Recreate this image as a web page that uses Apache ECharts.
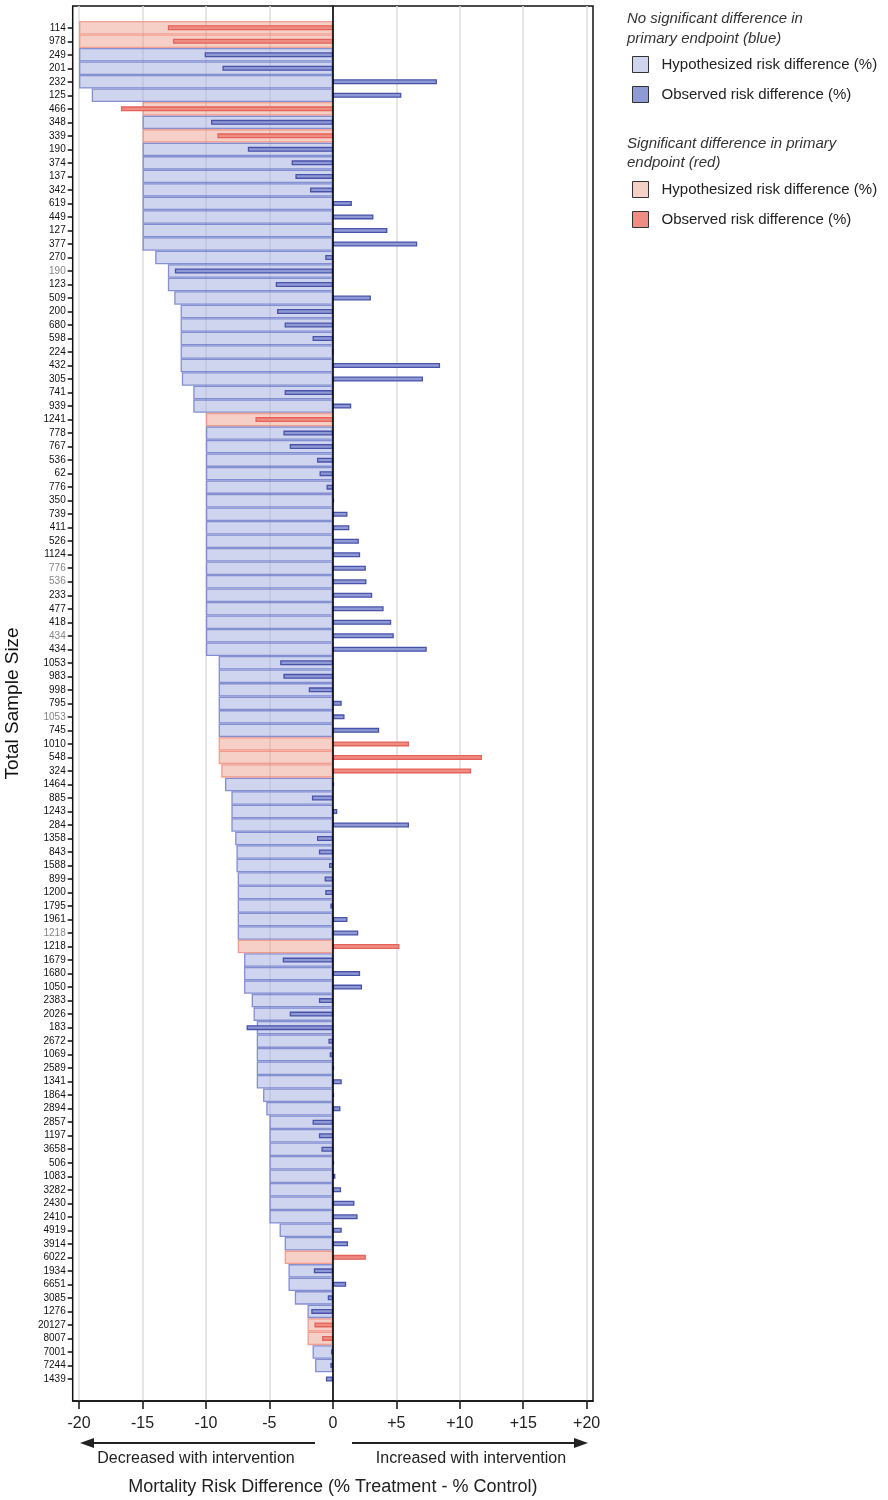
<!DOCTYPE html>
<html>
<head>
<meta charset="utf-8">
<script src="https://cdn.jsdelivr.net/npm/echarts@6/dist/echarts.min.js"></script>
<style>
  html, body { margin: 0; padding: 0; background: #fff; }
  #chart { width: 888px; height: 1500px; }
</style>
</head>
<body>
<div id="chart"></div>
<script>
// total sample size of each trial, top to bottom
var sampleSizes = ['114', '978', '249', '201', '232', '125', '466', '348', '339', '190',
  '374', '137', '342', '619', '449', '127', '377', '270', '190', '123',
  '509', '200', '680', '598', '224', '432', '305', '741', '939', '1241',
  '778', '767', '536', '62', '776', '350', '739', '411', '526', '1124',
  '776', '536', '233', '477', '418', '434', '434', '1053', '983', '998',
  '795', '1053', '745', '1010', '548', '324', '1464', '885', '1243', '284',
  '1358', '843', '1588', '899', '1200', '1795', '1961', '1218', '1218', '1679',
  '1680', '1050', '2383', '2026', '183', '2672', '1069', '2589', '1341', '1864',
  '2894', '2857', '1197', '3658', '506', '1083', '3282', '2430', '2410', '4919',
  '3914', '6022', '1934', '6651', '3085', '1276', '20127', '8007', '7001', '7244', '1439']

// hypothesized risk difference (%)
var hypothesized = [-20, -20, -20, -20, -20, -19, -15, -15, -15, -15,
  -15, -15, -15, -15, -15, -15, -15, -14, -13, -13,
  -12.5, -12, -12, -12, -12, -12, -11.9, -11, -11, -10,
  -10, -10, -10, -10, -10, -10, -10, -10, -10, -10,
  -10, -10, -10, -10, -10, -10, -10, -9, -9, -9,
  -9, -9, -9, -9, -9, -8.8, -8.5, -8, -8, -8,
  -7.7, -7.6, -7.6, -7.5, -7.5, -7.5, -7.5, -7.5, -7.5, -7,
  -7, -7, -6.4, -6.25, -6, -6, -6, -6, -6, -5.5,
  -5.25, -5, -5, -5, -5, -5, -5, -5, -5, -4.2,
  -3.8, -3.8, -3.5, -3.5, -3, -2, -2, -2, -1.6, -1.4, null]

// observed risk difference (%)
var observed = [-13, -12.6, -10.1, -8.7, 8.2, 5.4, -16.7, -9.6, -9.1, -6.7,
  -3.25, -2.95, -1.8, 1.5, 3.2, 4.3, 6.65, -0.6, -12.45, -4.5,
  3.0, -4.4, -3.8, -1.6, 0, 8.45, 7.1, -3.8, 1.45, -6.1,
  -3.9, -3.4, -1.25, -1.05, -0.5, 0.1, 1.15, 1.3, 2.05, 2.15,
  2.6, 2.65, 3.1, 4.0, 4.6, 4.8, 7.4, -4.15, -3.9, -1.9,
  0.7, 0.92, 3.65, 6.0, 11.75, 10.9, 0.1, -1.65, 0.35, 6.0,
  -1.25, -1.1, -0.3, -0.65, -0.6, -0.2, 1.15, 2.0, 5.25, -3.95,
  2.15, 2.3, -1.1, -3.4, -6.8, -0.35, -0.25, 0.1, 0.7, 0.1,
  0.6, -1.6, -1.1, -0.9, 0.1, 0.2, 0.65, 1.7, 1.95, 0.7,
  1.2, 2.6, -1.5, 1.05, -0.4, -1.7, -1.45, -0.85, -0.15, -0.2, -0.55]

// rows with a significant difference in the primary endpoint (red)
var significantRows = [0, 1, 6, 8, 29, 53, 54, 55, 68, 91, 96, 97]
// rows whose label is printed in grey
var greyRows = [18, 40, 41, 45, 51, 67]

var xTicks = [-20, -15, -10, -5, 0, 5, 10, 15, 20]

var FONT = '"Liberation Sans", Arial, Helvetica, sans-serif'

function isSig (i) { return significantRows.indexOf(i) >= 0 }
function pick (arr, sig) {
  return arr.map(function (v, i) { return isSig(i) === sig ? v : null })
}

var chart = echarts.init(document.getElementById('chart'))

var hypStyleBlue = { color: 'rgba(160,172,222,0.5)', borderColor: 'rgba(108,120,200,0.8)', borderWidth: 1.3 }
var hypStyleRed = { color: 'rgba(234,150,128,0.45)', borderColor: 'rgba(236,128,110,0.7)', borderWidth: 1.3 }
var obsStyleBlue = { color: '#8f9ad5', borderColor: '#4852aa', borderWidth: 1.3 }
var obsStyleRed = { color: '#ee8d84', borderColor: '#e4625a', borderWidth: 1.3 }

var legendNames = {
  hypBlue: 'Hypothesized risk difference (%)',
  obsBlue: 'Observed risk difference (%)',
  hypRed: 'Hypothesized risk difference (%)',
  obsRed: 'Observed risk difference (%)'
}

var legendCommon = {
  orient: 'vertical',
  left: 632,
  padding: 0,
  itemWidth: 16,
  itemHeight: 16,
  itemGap: 13,
  icon: 'rect',
  selectedMode: false,
  itemStyle: { borderColor: '#333', borderWidth: 1 },
  formatter: function (name) { return legendNames[name] },
  textStyle: { fontFamily: FONT, fontSize: 15, color: '#222', padding: [0, 0, 0, 8] }
}

var option = {
  backgroundColor: '#fff',
  animation: false,
  grid: [
    { left: 72.7, right: 295, top: 6, bottom: 99, outerBoundsMode: 'none', show: true, borderColor: '#111', borderWidth: 1.5, backgroundColor: 'transparent' },
    { left: 72.7, right: 295, top: 21, bottom: 114.3, outerBoundsMode: 'none' }
  ],
  xAxis: [
    {
      gridIndex: 0,
      type: 'value',
      min: -20.5,
      max: 20.5,
      name: 'Mortality Risk Difference (% Treatment - % Control)',
      nameLocation: 'middle',
      nameGap: 77,
      nameMoveOverlap: false,
      nameTextStyle: { fontFamily: FONT, fontSize: 18, color: '#222' },
      axisLine: { show: true, onZero: false, lineStyle: { color: '#111', width: 1.5 } },
      axisTick: { show: true, customValues: xTicks, length: 8, lineStyle: { color: '#111', width: 1.5 } },
      axisLabel: {
        customValues: xTicks,
        margin: 15,
        fontFamily: FONT,
        fontSize: 16,
        color: '#222',
        formatter: function (v) { return v > 0 ? '+' + v : String(v) }
      },
      splitLine: { show: true, lineStyle: { color: '#dedede', width: 1.5 } }
    },
    {
      gridIndex: 1,
      type: 'value',
      min: -20.5,
      max: 20.5,
      show: false
    }
  ],
  yAxis: [
    {
      // zero reference line
      gridIndex: 0,
      type: 'value',
      min: 0,
      max: 1,
      z: 10,
      axisLine: { show: true, onZero: true, lineStyle: { color: '#000', width: 1.6 } },
      axisTick: { show: false },
      axisLabel: { show: false },
      splitLine: { show: false }
    },
    {
      gridIndex: 1,
      type: 'category',
      inverse: true,
      data: sampleSizes,
      name: 'Total Sample Size',
      nameLocation: 'middle',
      nameGap: 50,
      nameRotate: 90,
      nameMoveOverlap: false,
      nameTextStyle: { fontFamily: FONT, fontSize: 19, color: '#111' },
      axisLine: { show: false, onZero: false },
      axisTick: { show: true, alignWithLabel: true, length: 5, lineStyle: { color: '#111', width: 1.5 } },
      axisLabel: {
        interval: 0,
        margin: 7,
        fontFamily: FONT,
        fontSize: 10,
        color: '#111',
        formatter: function (v, i) { return greyRows.indexOf(i) >= 0 ? '{g|' + v + '}' : v },
        rich: { g: { fontFamily: FONT, fontSize: 10, color: '#858585' } }
      },
      splitLine: { show: false }
    },
    {
      gridIndex: 1,
      type: 'category',
      inverse: true,
      data: sampleSizes,
      show: false,
      axisLine: { onZero: false }
    }
  ],
  legend: [
    Object.assign({ top: 56, data: ['hypBlue', 'obsBlue'] }, legendCommon),
    Object.assign({ top: 181, data: ['hypRed', 'obsRed'] }, legendCommon)
  ],
  graphic: [
    {
      type: 'text', left: 627, top: 9,
      style: { text: 'No significant difference in\nprimary endpoint (blue)', fontFamily: FONT, fontSize: 15, fontStyle: 'italic', lineHeight: 20, fill: '#333' }
    },
    {
      type: 'text', left: 627, top: 134,
      style: { text: 'Significant difference in primary\nendpoint (red)', fontFamily: FONT, fontSize: 15, fontStyle: 'italic', lineHeight: 19, fill: '#333' }
    },
    { type: 'line', shape: { x1: 90, y1: 1443, x2: 315, y2: 1443 }, style: { stroke: '#222', lineWidth: 2 } },
    { type: 'polygon', shape: { points: [[80, 1443], [94, 1438], [94, 1448]] }, style: { fill: '#222' } },
    { type: 'line', shape: { x1: 352, y1: 1443, x2: 578, y2: 1443 }, style: { stroke: '#222', lineWidth: 2 } },
    { type: 'polygon', shape: { points: [[588, 1443], [574, 1438], [574, 1448]] }, style: { fill: '#222' } },
    {
      type: 'text', x: 196, y: 1459,
      style: { text: 'Decreased with intervention', fontFamily: FONT, fontSize: 16, fill: '#222', align: 'center', verticalAlign: 'middle' }
    },
    {
      type: 'text', x: 471, y: 1459,
      style: { text: 'Increased with intervention', fontFamily: FONT, fontSize: 16, fill: '#222', align: 'center', verticalAlign: 'middle' }
    }
  ],
  series: [
    {
      name: 'hypBlue', type: 'bar', xAxisIndex: 1, yAxisIndex: 1,
      barWidth: '100%', barGap: '-100%',
      itemStyle: hypStyleBlue, data: pick(hypothesized, false)
    },
    {
      name: 'hypRed', type: 'bar', xAxisIndex: 1, yAxisIndex: 1,
      barWidth: '100%', barGap: '-100%',
      itemStyle: hypStyleRed, data: pick(hypothesized, true)
    },
    {
      name: 'obsBlue', type: 'bar', xAxisIndex: 1, yAxisIndex: 2,
      barWidth: 5, barGap: '-100%', z: 3,
      itemStyle: obsStyleBlue, data: pick(observed, false)
    },
    {
      name: 'obsRed', type: 'bar', xAxisIndex: 1, yAxisIndex: 2,
      barWidth: 5, barGap: '-100%', z: 3,
      itemStyle: obsStyleRed, data: pick(observed, true)
    }
  ]
}

chart.setOption(option)
</script>
</body>
</html>
